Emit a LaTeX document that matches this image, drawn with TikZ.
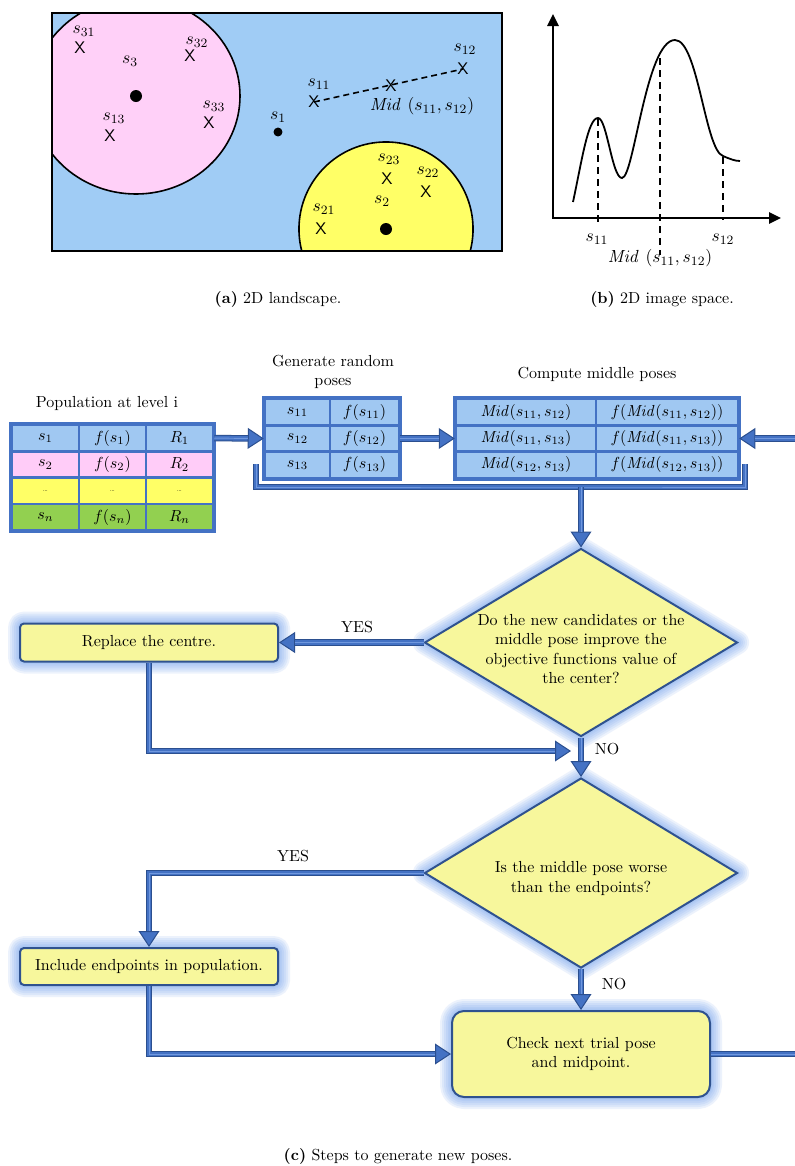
\documentclass[tikz,border=0pt]{standalone}
\usetikzlibrary{arrows.meta,shapes.geometric,fit}
\definecolor{landblue}{HTML}{A0CCF5}
\definecolor{landpink}{HTML}{FFD0F8}
\definecolor{landyellow}{HTML}{FFFF66}
\definecolor{cellblue}{HTML}{A0C8F2}
\definecolor{cellpink}{HTML}{FFCCF8}
\definecolor{cellyellow}{HTML}{FFFF66}
\definecolor{cellgreen}{HTML}{92D050}
\definecolor{tabline}{HTML}{4472C4}
\definecolor{tubedark}{HTML}{2B4F8F}
\definecolor{tubemid}{HTML}{4472C4}
\definecolor{tubelight}{HTML}{7098DE}
\definecolor{boxfill}{HTML}{F7F79C}
\definecolor{boxline}{HTML}{2F528F}
\definecolor{glowc}{HTML}{6F9FEE}
\begin{document}
\begin{tikzpicture}[x=0.625pt,y=-0.625pt,
  txt/.style={font=\fontsize{10}{12.2}\selectfont, inner sep=0pt},
  xmark/.style={font=\sffamily\fontsize{10.5}{10.5}\selectfont, inner sep=0pt},
  lab/.style={font=\fontsize{10.95}{13}\selectfont, inner sep=0pt},
  cell/.style={draw=tabline, line width=1.5625pt, minimum height=16.44pt, inner sep=0pt, font=\fontsize{10}{12.2}\selectfont},
  frame/.style={draw=tabline, line width=1.875pt, inner sep=0pt},
  glowlayer/.style={preaction={draw=glowc, line width=#1, draw opacity=0.13, line join=round}},
  glow/.style={glowlayer=15pt, glowlayer=12.5pt, glowlayer=10pt, glowlayer=7.5pt, glowlayer=5pt, glowlayer=3pt},
  procbox/.style={glow, draw=boxline, line width=1.25pt, fill=boxfill, inner sep=0pt, align=center, font=\fontsize{10}{12.2}\selectfont},
  decision/.style={glow, diamond, draw=boxline, line width=1.25pt, fill=boxfill, inner sep=0pt, minimum width=195.6pt, minimum height=117.5pt},
  tube/.style={draw=tubedark, line width=4.06pt,
               postaction={draw=tubemid, line width=2.8pt},
               postaction={draw=tubelight, line width=0.6pt}},
  tubearrow/.style={draw=tubedark, line width=4.06pt, -{Triangle[length=10pt,width=13pt,line width=0.625pt,fill=tubemid]},
                    postaction={draw=tubemid, line width=2.8pt, -, shorten >=10pt},
                    postaction={draw=tubelight, line width=0.6pt, -, shorten >=10pt}},
  axisline/.style={line width=1.5625pt, {Triangle[length=7.5pt,width=6.9pt]}-{Triangle[length=7.5pt,width=6.9pt]}},
  guide/.style={line width=1pt, dash pattern=on 4.4pt off 3.1pt}
]
\fill[white] (0,0) rectangle (795,1166);
\useasboundingbox (0,0) rectangle (795,1166);

% ---------- (a) 2D landscape ----------
\begin{scope}
  \clip (52,13) rectangle (502,251);
  \fill[landblue] (52,13) rectangle (502,251);
  \draw[line width=1pt, fill=landpink] (136,96) ellipse [x radius=65pt, y radius=61.25pt];
  \draw[line width=1pt, fill=landyellow] (386,229) circle [radius=54.4pt];
\end{scope}
\draw[line width=1.25pt] (52,13) rectangle (502,251);
\fill (136,96) circle [radius=3.75pt];
\fill (278,132) circle [radius=2.8pt];
\fill (386,229) circle [radius=3.75pt];

\node[xmark] (x31) at (80,48) {X};
\node[xmark] (x32) at (190,56) {X};
\node[xmark] (x13) at (110,136) {X};
\node[xmark] (x33) at (209,123) {X};
\node[xmark] (x11) at (314,102) {X};
\node[xmark] (xmid) at (391,86) {X};
\node[xmark] (x12) at (463,69) {X};
\node[xmark] (x23) at (387,179) {X};
\node[xmark] (x22) at (426,192) {X};
\node[xmark] (x21) at (321,229) {X};
\draw[line width=1pt, dash pattern=on 3.75pt off 2.5pt] (x11.center) -- (x12.center);

\node[lab] (l31) at (84,31) {$s_{31}$};
\node[lab] (l32) at (197,42) {$s_{32}$};
\node[lab] (l3) at (130,61) {$s_{3}$};
\node[lab] (l13) at (114,118) {$s_{13}$};
\node[lab] (l33) at (214,106) {$s_{33}$};
\node[lab] (l1) at (278,117) {$s_{1}$};
\node[lab] (l11) at (319,84) {$s_{11}$};
\node[lab] (l12) at (465,49) {$s_{12}$};
\node[lab] (lmid) at (422,106) {$\mathit{Mid}\ (s_{11},s_{12})$};
\node[lab] (l23) at (389,159) {$s_{23}$};
\node[lab] (l22) at (428,172) {$s_{22}$};
\node[lab] (l2) at (382,201) {$s_{2}$};
\node[lab] (l21) at (324,209) {$s_{21}$};

% ---------- (b) 2D image space ----------
\draw[axisline] (553,14) -- (553,218) -- (781,218);
\draw[line width=1.125pt] (573,202) .. controls (582,160) and (588,118) .. (598,118)
  .. controls (607,118) and (612,178) .. (622,178)
  .. controls (634,178) and (646,40) .. (675,40)
  .. controls (698,40) and (705,150) .. (723,156)
  .. controls (730,159) and (735,161) .. (740,161);
\draw[guide] (598,119) -- (598,223);
\draw[guide] (660,58) -- (660,255);
\draw[guide] (723,157) -- (723,220);
\node[lab] (b11) at (597,239) {$s_{11}$};
\node[lab] (b12) at (723,239) {$s_{12}$};
\node[lab] (bmid) at (660,258) {$\mathit{Mid}\ (s_{11},s_{12})$};

% captions
\node[txt] (capa) at (278,299) {\textbf{(a)} 2D landscape.};
\node[txt] (capb) at (662,299) {\textbf{(b)} 2D image space.};
\node[txt] (capc) at (398,1156) {\textbf{(c)} Steps to generate new poses.};

% ---------- tables ----------
\node[txt] (tpop) at (107,403) {Population at level i};
\node[txt, align=center] (trand) at (333,372) {Generate random\\poses};
\node[txt] (tmid) at (597,374) {Compute middle poses};

% population table
\node[cell, fill=cellblue, minimum width=41.875pt] (p11) at (45.5,438.1) {$s_1$};
\node[cell, fill=cellblue, minimum width=41.875pt] (p12) at (112.5,438.1) {$f(s_1)$};
\node[cell, fill=cellblue, minimum width=41.875pt] (p13) at (179.5,438.1) {$R_1$};
\node[cell, fill=cellpink, minimum width=41.875pt] (p21) at (45.5,464.4) {$s_2$};
\node[cell, fill=cellpink, minimum width=41.875pt] (p22) at (112.5,464.4) {$f(s_2)$};
\node[cell, fill=cellpink, minimum width=41.875pt] (p23) at (179.5,464.4) {$R_2$};
\node[cell, fill=cellyellow, minimum width=41.875pt] (p31) at (45.5,490.7) {\fontsize{4}{4}\selectfont\ldots};
\node[cell, fill=cellyellow, minimum width=41.875pt] (p32) at (112.5,490.7) {\fontsize{4}{4}\selectfont\ldots};
\node[cell, fill=cellyellow, minimum width=41.875pt] (p33) at (179.5,490.7) {\fontsize{4}{4}\selectfont\ldots};
\node[cell, fill=cellgreen, minimum width=41.875pt] (p41) at (45.5,517) {$s_n$};
\node[cell, fill=cellgreen, minimum width=41.875pt] (p42) at (112.5,517) {$f(s_n)$};
\node[cell, fill=cellgreen, minimum width=41.875pt] (p43) at (179.5,517) {$R_n$};
\node[frame, fit=(p11)(p43)] (poptab) {};

% random poses table
\node[cell, fill=cellblue, minimum width=40.625pt] (r11) at (297.5,412.2) {$s_{11}$};
\node[cell, fill=cellblue, minimum width=43.125pt] (r12) at (364.5,412.2) {$f(s_{11})$};
\node[cell, fill=cellblue, minimum width=40.625pt] (r21) at (297.5,438.5) {$s_{12}$};
\node[cell, fill=cellblue, minimum width=43.125pt] (r22) at (364.5,438.5) {$f(s_{12})$};
\node[cell, fill=cellblue, minimum width=40.625pt] (r31) at (297.5,464.8) {$s_{13}$};
\node[cell, fill=cellblue, minimum width=43.125pt] (r32) at (364.5,464.8) {$f(s_{13})$};
\node[frame, fit=(r11)(r32)] (randtab) {};

% middle poses table
\node[cell, fill=cellblue, minimum width=87.5pt] (m11) at (526,412.2) {$\mathit{Mid}(s_{11},s_{12})$};
\node[cell, fill=cellblue, minimum width=88.75pt] (m12) at (667,412.2) {$f(\mathit{Mid}(s_{11},s_{12}))$};
\node[cell, fill=cellblue, minimum width=87.5pt] (m21) at (526,438.5) {$\mathit{Mid}(s_{11},s_{13})$};
\node[cell, fill=cellblue, minimum width=88.75pt] (m22) at (667,438.5) {$f(\mathit{Mid}(s_{11},s_{13}))$};
\node[cell, fill=cellblue, minimum width=87.5pt] (m31) at (526,464.8) {$\mathit{Mid}(s_{12},s_{13})$};
\node[cell, fill=cellblue, minimum width=88.75pt] (m32) at (667,464.8) {$f(\mathit{Mid}(s_{12},s_{13}))$};
\node[frame, fit=(m11)(m32)] (midtab) {};

\coordinate (rin) at (800,438.5);
\coordinate (bk1) at (256,464);
\coordinate (bk2) at (745,464);
\coordinate (bkm) at (581,487);

\draw[tubearrow] (p13.east) -- (r21.west);
\draw[tubearrow] (r22.east) -- (m21.west);
\draw[tubearrow] (rin) -- (m22.east);
\draw[tube] (bk1) |- (bkm) -| (bk2);

% ---------- flowchart ----------
\node[decision] (d1) at (581,642.5) {};
\node[txt, align=center] (d1t) at (581,649) {Do the new candidates or the\\middle pose improve the\\objective functions value of\\the center?};
\node[procbox, rounded corners=2.5pt, minimum width=161.25pt, minimum height=23.75pt] (rep) at (149,642.5) {Replace the centre.};

\node[decision, minimum height=118.75pt] (d2) at (581,873) {};
\node[txt, align=center] (d2t) at (581,878.5) {Is the middle pose worse\\than the endpoints?};
\node[procbox, rounded corners=2.5pt, minimum width=161.25pt, minimum height=23.125pt] (inc) at (149,966.5) {Include endpoints in population.};

\node[procbox, rounded corners=7.5pt, minimum width=161.25pt, minimum height=53.75pt] (chk) at (581,1054) {Check next trial pose\\and midpoint.};

\coordinate (j1) at (571,751);
\coordinate (out) at (800,1054);

\draw[tubearrow] (bkm) -- (d1.north);
\draw[tubearrow] (d1.west) -- (rep.east);
\draw[tubearrow] (rep.south) |- (j1);
\draw[tubearrow] (d1.south) -- (d2.north);
\draw[tubearrow] (d2.west) -| (inc.north);
\draw[tubearrow] (inc.south) |- (chk.west);
\draw[tubearrow] (d2.south) -- (chk.north);
\draw[tube] (chk.east) -- (out);

\node[txt] (yes1) at (357,627) {YES};
\node[txt] (no1) at (607,749) {NO};
\node[txt] (yes2) at (293,856) {YES};
\node[txt] (no2) at (614,984) {NO};
\end{tikzpicture}
\end{document}
